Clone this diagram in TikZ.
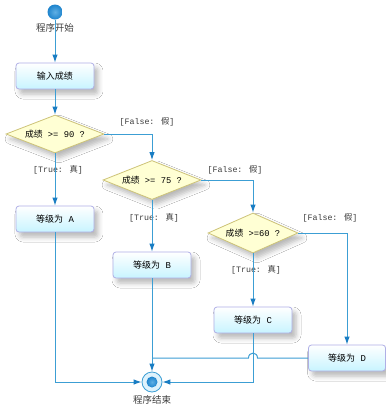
\documentclass[tikz,border=0pt]{standalone}
\usepackage{fontspec}
\setmainfont{Liberation Mono}
\newfontfamily\cjk{Noto Sans CJK SC}
\usetikzlibrary{shapes.geometric,arrows.meta,shadows.blur}
\newcommand\zh[1]{{\cjk #1}}
\definecolor{lineblue}{RGB}{60,158,212}
\definecolor{tipblue}{RGB}{25,125,195}
\definecolor{boxfill}{RGB}{200,244,255}
\definecolor{boxborder}{RGB}{175,175,230}
\definecolor{dfill}{RGB}{255,255,212}
\definecolor{dborder}{RGB}{205,195,120}
\definecolor{labelgray}{RGB}{60,60,60}
\definecolor{ballin}{RGB}{95,175,228}
\definecolor{ballout}{RGB}{30,132,205}
\definecolor{ringfill}{RGB}{222,242,252}
\tikzset{
  shd/.style={blur shadow={shadow xshift=4pt, shadow yshift=-5pt, shadow blur radius=5pt, shadow opacity=28}},
  flow/.style={draw=lineblue, line width=1pt, -{Latex[length=8pt,width=5.5pt,color=tipblue]}},
  plain/.style={draw=lineblue, line width=1pt},
  box/.style={rectangle, rounded corners=3pt, draw=boxborder, line width=0.8pt,
    top color=white, bottom color=boxfill, minimum width=78pt, minimum height=26pt,
    inner sep=0pt, font=\fontsize{9}{10}\selectfont, shd},
  dia/.style={diamond, aspect=2.5, draw=dborder, line width=0.8pt, fill=dfill, inner sep=0pt,
    font=\fontsize{8.8}{10}\selectfont, shd},
  lbl/.style={font=\fontsize{8.3}{9}\selectfont, text=labelgray, inner sep=1pt},
  captext/.style={font=\fontsize{9.5}{10}\selectfont, text=labelgray, inner sep=1pt},
  startc/.style={circle, minimum size=15pt, inner sep=0pt, inner color=ballin, outer color=ballout},
  endc/.style={circle, minimum size=20pt, inner sep=0pt, draw=lineblue, line width=0.8pt, fill=ringfill},
  endin/.style={circle, minimum size=11pt, inner sep=0pt, inner color=ballin, outer color=ballout}
}
\begin{document}
\begin{tikzpicture}[x=1pt,y=-1pt]
\useasboundingbox (0,0) rectangle (386,408);
\fill[white] (0,0) rectangle (386,408);
% nodes
\node[startc] (s) at (55,12) {};
\node[captext] (sl) at (55,28) {\zh{程序开始}};
\node[box] (in) at (55,76) {\zh{输入成绩}};
\node[dia, minimum width=98pt, minimum height=38pt] (d1) at (55,134) {\zh{成绩} >= 90 ?};
\node[box] (A) at (55,219) {\zh{等级为} A};
\node[dia, minimum width=98pt, minimum height=39pt] (d2) at (152,180) {\zh{成绩} >= 75 ?};
\node[box] (B) at (152,265) {\zh{等级为} B};
\node[dia, aspect=2.25, minimum width=90pt, minimum height=40pt] (d3) at (253,233) {\zh{成绩} >=60 ?};
\node[box] (C) at (253,320) {\zh{等级为} C};
\node[box, minimum width=77pt] (D) at (347,358) {\zh{等级为} D};
\node[endc] (e) at (152,382) {};
\node[endin] (ei) at (152,382) {};
\node[captext] (el) at (152,400) {\zh{程序结束}};
% labels
\node[lbl] (f1) at (147,122) {[False: \zh{假}]};
\node[lbl] (t1) at (58,170) {[True: \zh{真}]};
\node[lbl] (f2) at (235,170) {[False: \zh{假}]};
\node[lbl] (t2) at (154,218) {[True: \zh{真}]};
\node[lbl] (f3) at (330,218) {[False: \zh{假}]};
\node[lbl] (t3) at (256,270) {[True: \zh{真}]};
% connectors
\draw[flow] (s) -- (in);
\draw[flow] (in) -- (d1);
\draw[flow] (d1.east) -| (d2.north);
\draw[flow] (d1) -- (A);
\draw[flow] (d2) -- (B);
\draw[flow] (d2.east) -| (d3.north);
\draw[flow] (d3) -- (C);
\draw[flow] (d3.east) -| (D.north);
\draw[flow] (A) |- (e.west);
\draw[flow] (C) |- (e.east);
\draw[flow] (B) -- (e);
\coordinate (jB) at (152,358);
\coordinate (hr) at (257.5,358);
\coordinate (hl) at (248.5,358);
\draw[plain] (D.west) -- (hr) .. controls (257.5,351.5) and (248.5,351.5) .. (hl) -- (jB);
\end{tikzpicture}
\end{document}
